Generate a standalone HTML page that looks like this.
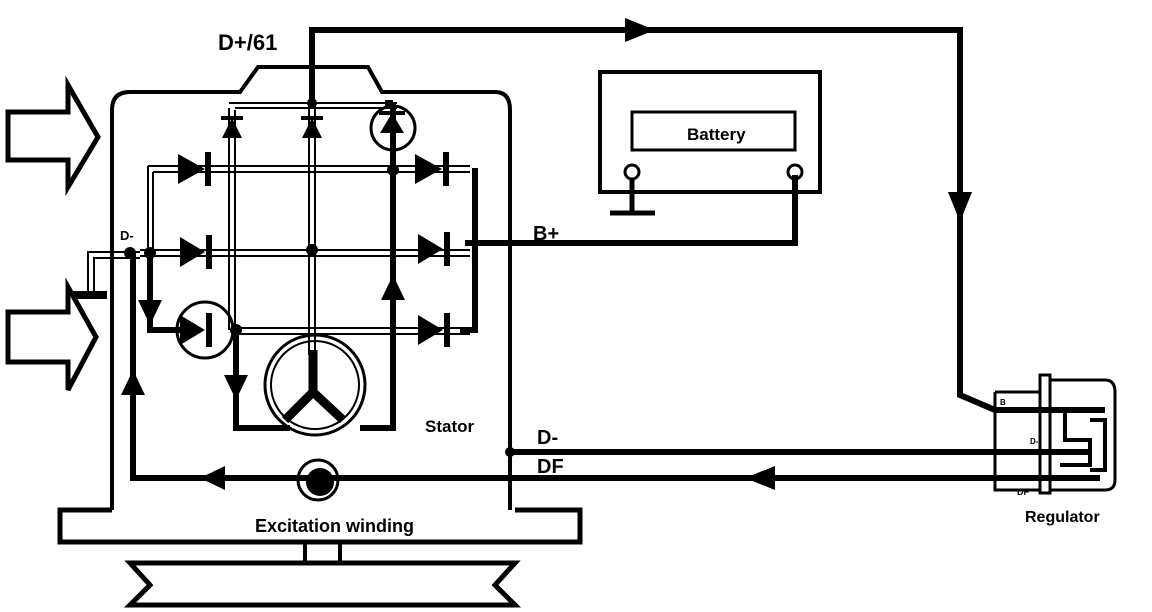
<!DOCTYPE html>
<html><head><style>body{margin:0;background:#fff}svg{display:block}text{font-family:"Liberation Sans",sans-serif;font-weight:bold}</style></head><body>
<svg width="1152" height="612" viewBox="0 0 1152 612" xmlns="http://www.w3.org/2000/svg">
<defs>
<marker id="a" viewBox="0 0 10 10" refX="5" refY="5" markerWidth="4" markerHeight="4" orient="auto"><path d="M0,0L10,5L0,10z"/></marker>
</defs>
<g fill="none" stroke="#000" stroke-linejoin="miter">
<!-- inlet arrows -->
<path d="M8,112H68V85L98,137L68,187V160H8Z" stroke-width="5"/>
<path d="M8,312H68V287L96,337L68,390V362H8Z" stroke-width="5"/>
<!-- housing -->
<path d="M112,510V110Q112,92 130,92H240L258,67H368L382,92H495Q510,92 510,110V510" stroke-width="4"/>
<path d="M112,510H60V542H580V510H515" stroke-width="5"/>
<path d="M305,542V562M340,542V562" stroke-width="4"/>
<path d="M130,563H515L495,585L515,605H130L150,585Z" stroke-width="5"/>
<!-- ground -->
<path d="M73,295H107" stroke-width="8"/>
<path d="M88,293V252H140M94,293V258H140" stroke-width="2"/>
<!-- rectifier thin double lines -->
<g stroke-width="2">
<path d="M148,166H470M153,172H470"/>
<path d="M148,166V253M153,172V253"/>
<path d="M140,250H470M140,256H470"/>
<path d="M236,328H470M236,334H470"/>
<path d="M229,108V330M235,110V330"/>
<path d="M309,103V355M315,103V355"/>
<path d="M229,103H397M235,108H397"/>
</g>
<!-- thick lines -->
<g stroke-width="6">
<path d="M312,103V30H960V395L995,410H1105"/>
<path d="M393,103V428H360"/>
<path d="M475,168V330H460"/>
<path d="M465,243H795V175"/>
<path d="M150,253V330H180"/>
<path d="M236,330V428H290"/>
<path d="M510,452H1090"/>
<path d="M133,253V478H1100"/>
<path d="M393,103H385"/>
</g>
<!-- arrows on wires -->
<g fill="#000" stroke="none">
<path d="M625,18L655,30L625,42Z"/>
<path d="M948,192L960,222L972,192Z"/>
<path d="M138,300L150,325L162,300Z"/>
<path d="M224,375L236,400L248,375Z"/>
<path d="M381,300L393,275L405,300Z"/>
<path d="M121,395L133,370L145,395Z"/>
<path d="M775,466L745,478L775,490Z"/>
<path d="M225,466L200,478L225,490Z"/>
<!-- diodes horizontal -->
<path d="M178,154L205,169L178,184Z"/><rect x="205" y="152" width="6" height="34"/>
<path d="M180,237L205,252L180,267Z"/><rect x="206" y="235" width="6" height="34"/>
<path d="M180,315L205,330L180,345Z"/><rect x="206" y="313" width="6" height="34"/>
<path d="M415,154L442,169L415,184Z"/><rect x="443" y="152" width="6" height="34"/>
<path d="M418,234L443,249L418,264Z"/><rect x="444" y="232" width="6" height="34"/>
<path d="M418,315L443,330L418,345Z"/><rect x="444" y="313" width="6" height="34"/>
<!-- diodes vertical up -->
<path d="M222,138L232,118L242,138Z"/><rect x="221" y="116" width="22" height="4"/>
<path d="M302,138L312,118L322,138Z"/><rect x="301" y="116" width="22" height="4"/>
<path d="M380,133L392,113L404,133Z"/><rect x="379" y="111" width="26" height="4"/>
<!-- nodes -->
<circle cx="130" cy="253" r="6"/><circle cx="150" cy="253" r="6"/><circle cx="312" cy="250" r="6"/>
<circle cx="393" cy="170" r="6"/><circle cx="236" cy="330" r="6"/><circle cx="312" cy="103" r="5"/>
<circle cx="510" cy="452" r="5"/>
</g>
<circle cx="205" cy="330" r="28" stroke-width="3"/>
<circle cx="393" cy="128" r="22" stroke-width="3"/>
<!-- stator -->
<circle cx="315" cy="385" r="50" stroke-width="3"/>
<circle cx="315" cy="385" r="44" stroke-width="2"/>
<path d="M313,350V392L285,420M313,392L343,420" stroke-width="9"/>
<!-- excitation winding -->
<circle cx="318" cy="480" r="20" stroke-width="3"/>
<circle cx="320" cy="482" r="14" fill="#000" stroke="none"/>
<!-- battery -->
<rect x="600" y="72" width="220" height="120" stroke-width="4"/>
<rect x="632" y="112" width="163" height="38" stroke-width="3"/>
<circle cx="632" cy="172" r="7" stroke-width="3"/>
<circle cx="795" cy="172" r="7" stroke-width="3"/>
<path d="M632,179V212M610,213H655" stroke-width="5"/>
<!-- regulator -->
<path d="M995,392H1040M995,392V490H1040M1050,380H1105Q1115,380 1115,392V480Q1115,490 1105,490H1050" stroke-width="3"/>
<rect x="1040" y="375" width="10" height="118" stroke-width="3"/>
<path d="M1065,410V440H1090V465H1060M1090,420H1105V470H1090" stroke-width="4"/>
</g>
<g fill="#000">
<text x="218" y="50" font-size="22">D+/61</text>
<text x="687" y="140" font-size="17">Battery</text>
<text x="533" y="240" font-size="20">B+</text>
<text x="120" y="240" font-size="13">D-</text>
<text x="425" y="432" font-size="17">Stator</text>
<text x="537" y="444" font-size="20">D-</text>
<text x="537" y="473" font-size="20">DF</text>
<text x="255" y="532" font-size="18">Excitation winding</text>
<text x="1025" y="522" font-size="16">Regulator</text>
<text x="1017" y="495" font-size="9">DF</text>
<text x="1000" y="405" font-size="8">B</text>
<text x="1030" y="444" font-size="8">D-</text>
</g>
</svg>
</body></html>
